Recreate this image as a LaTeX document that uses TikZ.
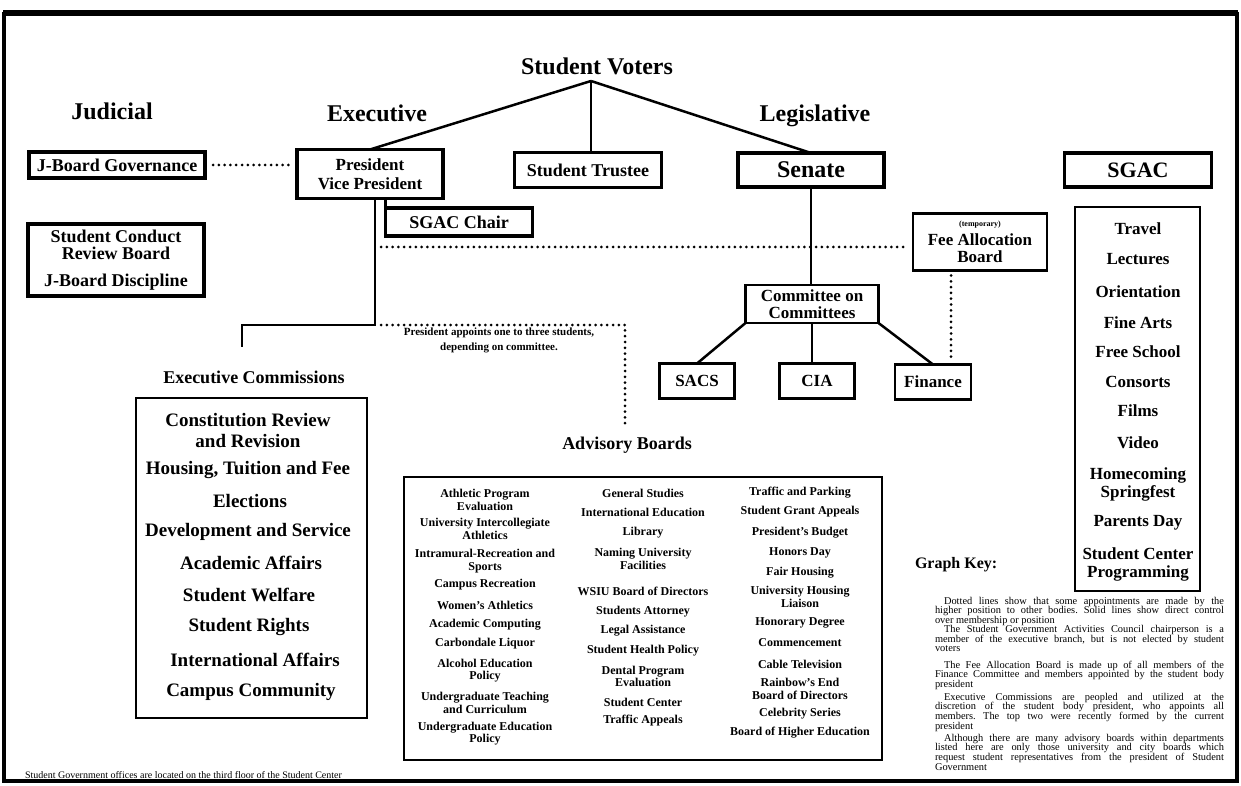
\documentclass[tikz,border=0pt]{standalone}
\usepackage{fontspec}
\setmainfont{Liberation Serif}
\newcommand\fsz[2]{\fontsize{#1}{#2}\selectfont}
\begin{document}
\begin{tikzpicture}[x=1pt,y=-1pt,
  every node/.style={inner sep=0pt, outer sep=0pt},
  lbl/.style={font=\bfseries, align=center},
  heavybox/.style={draw, line width=3.5pt, align=center, font=\bfseries},
  lightbox/.style={draw, line width=2.5pt, align=center, font=\bfseries},
  link/.style={line width=2.5pt},
  dots/.style={line width=3pt, line cap=round, dash pattern=on 0pt off 5.8pt},
  advitem/.style={font=\bfseries\fsz{12}{12.5}, align=center},
  ecitem/.style={font=\bfseries\fsz{19}{21}, align=center},
  sgitem/.style={font=\bfseries\fsz{17}{18}, align=center},
  keytext/.style={anchor=north west, text width=289pt, align=justify, font=\frenchspacing\fsz{10.4}{9.6}}
]
\useasboundingbox (0,0) rectangle (1241,786);
% outer frame
\draw[line width=3.5pt] (4,14) rectangle (1237,781);
\draw[line width=5pt] (3,13) -- (1238,13);

% headings
\node[lbl, font=\bfseries\fsz{24}{26}] (voters) at (597,66) {Student Voters};
\node[lbl, font=\bfseries\fsz{24}{26}] (judicial) at (112,111) {Judicial};
\node[lbl, font=\bfseries\fsz{24}{26}] (executive) at (377,113) {Executive};
\node[lbl, font=\bfseries\fsz{24}{26}] (legislative) at (815,116) {Legislative};
\coordinate (apex) at (591,81);

% top row boxes
\node[heavybox, font=\bfseries\fsz{18}{20}, minimum width=176pt, minimum height=26pt] (jbg) at (117,165) {J-Board Governance};
\node[heavybox, font=\bfseries\fsz{17}{19}, minimum width=146pt, minimum height=49pt] (pres) at (370,174) {President\\Vice President};
\node[heavybox, font=\bfseries\fsz{18}{20}, minimum width=147pt, minimum height=35pt] (trustee) at (588,170) {Student Trustee};
\node[heavybox, font=\bfseries\fsz{24}{26}, minimum width=146pt, minimum height=34pt] (senate) at (811,170) {Senate};
\node[heavybox, font=\bfseries\fsz{22}{24}, minimum width=147pt, minimum height=34pt] (sgac) at (1138,170) {SGAC};
\node[heavybox, font=\bfseries\fsz{18}{20}, minimum width=147pt, minimum height=28pt] (chair) at (459,222) {SGAC Chair};
\node[heavybox, font=\bfseries\fsz{18}{16.5}, minimum width=176pt, minimum height=72pt] (scrb) at (116,260) {Student Conduct\\Review Board\\[10.5pt]J-Board Discipline};

% legislative side
\node[lightbox, font=\bfseries\fsz{17}{17}, minimum width=134pt, minimum height=57pt] (fab) at (980,242) {{\fsz{8}{9}(temporary)}\\[2pt]Fee Allocation\\Board};
\node[lightbox, font=\bfseries\fsz{17}{17}, minimum width=133pt, minimum height=38pt] (committee) at (812,304) {Committee on\\Committees};
\node[lightbox, font=\bfseries\fsz{17}{19}, minimum width=75pt, minimum height=35pt] (sacs) at (697,381) {SACS};
\node[lightbox, font=\bfseries\fsz{17}{19}, minimum width=75pt, minimum height=35pt] (cia) at (817,381) {CIA};
\node[lightbox, font=\bfseries\fsz{17}{19}, minimum width=76pt, minimum height=35pt] (finance) at (933,382) {Finance};

% connectors from voters
\draw[link] (apex) -- (pres.north);
\draw[link] (apex) -- (apex |- trustee.north);
\draw[link] (apex) -- (senate.north);
\draw[dots] ([xshift=8pt]jbg.east) -- ([xshift=-8pt]jbg.east -| pres.west);
\draw[link] (chair.north west) -- (chair.north west |- pres.south);

% executive branch line
\coordinate (b1) at (375,325);
\coordinate (d1) at (375,247);
\coordinate (ecTop) at (242,347);
\coordinate (advTop) at (625,425);
\coordinate (fx) at (951,0);
\draw[link] (b1 |- pres.south) -- (b1) -| (ecTop);
\draw[dots] ([xshift=6pt]d1) -- ([xshift=-6pt]d1 -| fab.west);
\draw[dots] ([xshift=6pt]b1) -| (advTop);
\node[lbl, font=\bfseries\fsz{11}{15}] (appoint) at (499,340.5) {President appoints one to three students,\\depending on committee.};

% senate connectors
\draw[link] (senate.south) -- (senate.south |- committee.north);
\draw[link] (committee.south west) -- (sacs.north);
\draw[link] (committee.south) -- (committee.south |- cia.north);
\draw[link] (committee.south east) -- (finance.north);
\draw[dots, shorten <=5pt, shorten >=4pt] (fab.south -| fx) -- (finance.north -| fx);

% executive commissions
\node[lbl, font=\bfseries\fsz{18}{20}] (eclabel) at (254,377) {Executive Commissions};
\node[draw, line width=2.5pt, minimum width=231pt, minimum height=320pt] (ecbox) at (251.5,558) {};
\node[ecitem] (ec1) at (248,430.5) {Constitution Review\\and Revision};
\node[ecitem] (ec2) at (248,470) {Housing, Tuition and  Fee};
\node[ecitem] (ec3) at (250,501) {Elections};
\node[ecitem] (ec4) at (248,532) {Development and Service};
\node[ecitem] (ec5) at (251,563) {Academic Affairs};
\node[ecitem] (ec6) at (249,595) {Student Welfare};
\node[ecitem] (ec7) at (249,627) {Student Rights};
\node[ecitem] (ec8) at (255,660) {International Affairs};
\node[ecitem] (ec9) at (251,692) {Campus Community};

% advisory boards
\node[lbl, font=\bfseries\fsz{18}{20}] (advlabel) at (627,445) {Advisory Boards};
\node[draw, line width=2.5pt, minimum width=478pt, minimum height=283pt] (advbox) at (643,618.5) {};
\node[advitem] (a1) at (485,500) {Athletic Program\\Evaluation};
\node[advitem] (a2) at (485,529) {University Intercollegiate\\Athletics};
\node[advitem] (a3) at (485,561) {Intramural-Recreation and\\Sports};
\node[advitem] (a4) at (485,585) {Campus Recreation};
\node[advitem] (a5) at (485,605) {Women's Athletics};
\node[advitem] (a6) at (485,625) {Academic Computing};
\node[advitem] (a7) at (485,644) {Carbondale Liquor};
\node[advitem] (a8) at (485,670.5) {Alcohol Education\\Policy};
\node[advitem] (a9) at (485,703) {Undergraduate Teaching\\and Curriculum};
\node[advitem] (a10) at (485,733.5) {Undergraduate Education\\Policy};
\node[advitem] (b1n) at (643,493) {General Studies};
\node[advitem] (b2n) at (643,512) {International Education};
\node[advitem] (b3n) at (643,533) {Library};
\node[advitem] (b4n) at (643,559) {Naming University\\Facilities};
\node[advitem] (b5n) at (643,591) {WSIU Board of Directors};
\node[advitem] (b6n) at (643,612) {Students Attorney};
\node[advitem] (b7n) at (643,631) {Legal Assistance};
\node[advitem] (b8n) at (643,651) {Student Health Policy};
\node[advitem] (b9n) at (643,676.5) {Dental Program\\Evaluation};
\node[advitem] (b10n) at (643,702) {Student Center};
\node[advitem] (b11n) at (643,721) {Traffic Appeals};
\node[advitem] (c1) at (800,493) {Traffic and Parking};
\node[advitem] (c2) at (800,512) {Student Grant Appeals};
\node[advitem] (c3) at (800,533) {President's Budget};
\node[advitem] (c4) at (800,553) {Honors Day};
\node[advitem] (c5) at (800,573) {Fair Housing};
\node[advitem] (c6) at (800,597) {University Housing\\Liaison};
\node[advitem] (c7) at (800,623) {Honorary Degree};
\node[advitem] (c8) at (800,643) {Commencement};
\node[advitem] (c9) at (800,664) {Cable Television};
\node[advitem] (c10) at (800,689) {Rainbow's End\\Board of Directors};
\node[advitem] (c11) at (800,714) {Celebrity Series};
\node[advitem] (c12) at (800,733) {Board of Higher Education};

% SGAC list
\node[draw, line width=2.5pt, minimum width=125pt, minimum height=384pt] (sgbox) at (1137.5,399) {};
\node[sgitem] (s1) at (1138,229) {Travel};
\node[sgitem] (s2) at (1138,259) {Lectures};
\node[sgitem] (s3) at (1138,292) {Orientation};
\node[sgitem] (s4) at (1138,323) {Fine Arts};
\node[sgitem] (s5) at (1138,352) {Free School};
\node[sgitem] (s6) at (1138,382) {Consorts};
\node[sgitem] (s7) at (1138,411) {Films};
\node[sgitem] (s8) at (1138,443) {Video};
\node[sgitem] (s9) at (1138,484) {Homecoming\\Springfest};
\node[sgitem] (s10) at (1138,523) {Parents Day};
\node[sgitem] (s11) at (1138,564) {Student Center\\Programming};

% graph key
\node[lbl, anchor=west, font=\bfseries\fsz{16}{18}] (key) at (915,565) {Graph Key:};
\node[keytext] (k1) at (935,597) {\hspace*{9pt}Dotted lines show that some appointments are made by the\linebreak higher position to other bodies. Solid lines show direct control\linebreak over membership or position};
\node[keytext] (k2) at (935,625.5) {\hspace*{9pt}The Student Government Activities Council chairperson is a\linebreak member of the executive branch, but is not elected by student\linebreak voters};
\node[keytext] (k3) at (935,661) {\hspace*{9pt}The Fee Allocation Board is made up of all members of the\linebreak Finance Committee and members appointed by the student body\linebreak president};
\node[keytext] (k4) at (935,693) {\hspace*{9pt}Executive Commissions are peopled and utilized at the\linebreak discretion of the student body president, who appoints all\linebreak members. The top two were recently formed by the current\linebreak president};
\node[keytext] (k5) at (935,734) {\hspace*{9pt}Although there are many advisory boards within departments\linebreak listed here are only those university and city boards which\linebreak request student representatives from the president of Student\linebreak Government};

% footer
\node[anchor=west, font=\fsz{10}{11}] (footer) at (25,775) {Student Government offices are located on the third floor of the  Student Center};
\end{tikzpicture}
\end{document}
